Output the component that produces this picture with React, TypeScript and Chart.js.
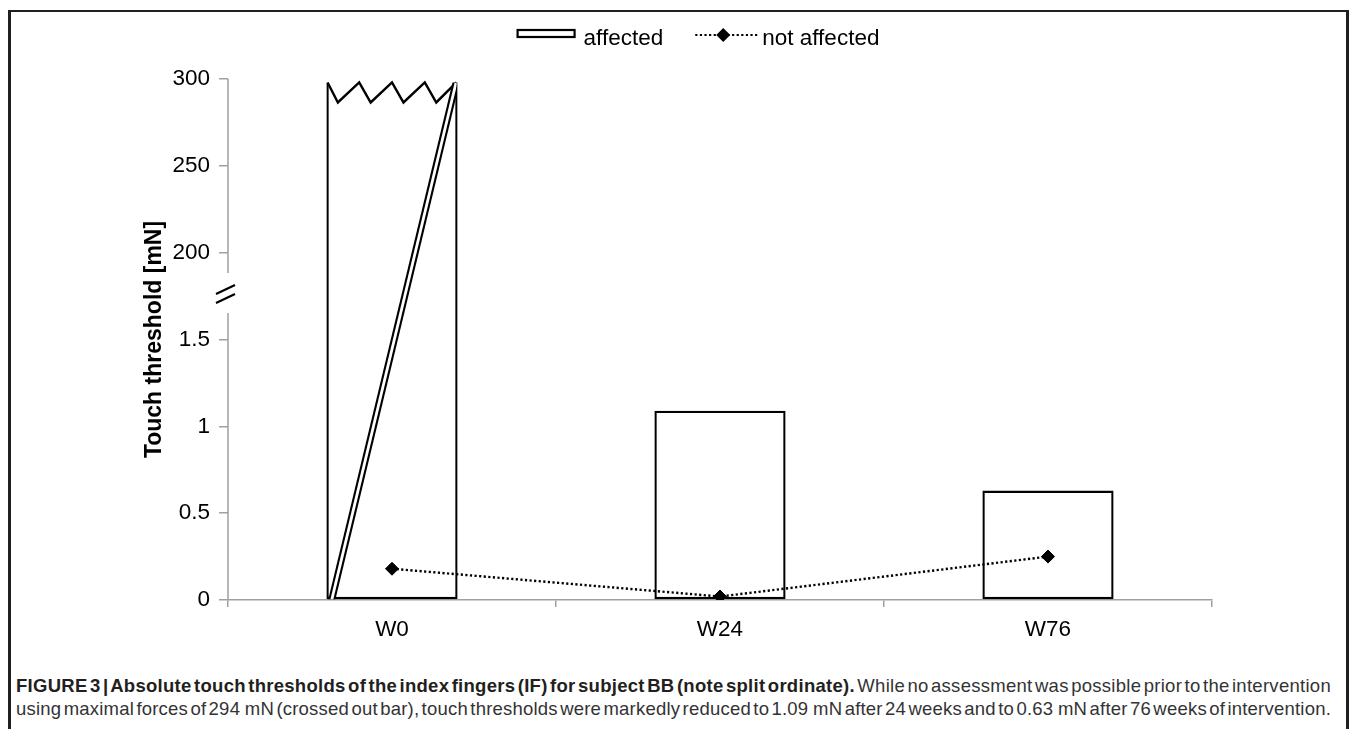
import React, { useEffect, useLayoutEffect, useRef } from 'react';
import { Chart, registerables } from 'chart.js';

Chart.register(...registerables);

// ---- data ----
const categories = ['W0', 'W24', 'W76'];
const affected = [298, 1.09, 0.63]; // W0 bar crossed out, reaches top of split axis
const notAffected = [0.18, 0.02, 0.25];
const lowerTicks = [0, 0.5, 1, 1.5];
const upperTicks = [200, 250, 300];
const tickLabels = [...lowerTicks, ...upperTicks].map(String);

const FONT = "'Liberation Sans', Arial, Helvetica, sans-serif";
const AXIS = '#a0a0a0';

const lowerStep = lowerTicks[1] - lowerTicks[0];
const upperStep = upperTicks[1] - upperTicks[0];
const lowerMax = lowerTicks[lowerTicks.length - 1] + lowerStep;
function toDisplay(v: number): number {
  if (v <= lowerMax) return (v - lowerTicks[0]) / lowerStep;
  return lowerTicks.length + (v - upperTicks[0]) / upperStep;
}

const splitPlugin = {
  id: 'splitPlugin',
  afterDatasetDraw(chart: any, args: any) {
    if (args.meta.type !== 'bar') return;
    const el = args.meta.data[0];
    if (!el) return;
    const { x, y, base, width } = el.getProps(['x', 'y', 'base', 'width'], true);
    const left = x - width / 2;
    const right = x + width / 2;
    const ctx = chart.ctx;
    ctx.save();
    // zigzag top
    const seg = width / 4;
    ctx.beginPath();
    ctx.moveTo(left + 1.2, y);
    for (let i = 0; i < 4; i++) {
      ctx.lineTo(left + i * seg + seg * 0.35, y + 20);
      ctx.lineTo(left + (i + 1) * seg - (i === 3 ? 1.2 : 0), y);
    }
    ctx.strokeStyle = '#000';
    ctx.lineWidth = 2.4;
    ctx.lineJoin = 'miter';
    ctx.stroke();
    // double diagonal
    ctx.beginPath();
    ctx.rect(left + 1, y, width - 2, base - y);
    ctx.clip();
    ctx.beginPath();
    ctx.moveTo(left + 5, base + 2);
    ctx.lineTo(right - 1.5, y);
    ctx.lineWidth = 7;
    ctx.strokeStyle = '#000';
    ctx.stroke();
    ctx.lineWidth = 2.8;
    ctx.strokeStyle = '#fff';
    ctx.stroke();
    ctx.restore();
  },
  afterDraw(chart: any) {
    const ctx = chart.ctx;
    const ys = chart.scales.y;
    const ax = ys.right;
    const yBreak = ys.getPixelForValue(lowerTicks.length - 0.5);
    ctx.save();
    // y axis line with break
    ctx.strokeStyle = AXIS;
    ctx.lineWidth = 1.5;
    ctx.beginPath();
    ctx.moveTo(ax, ys.bottom);
    ctx.lineTo(ax, yBreak + 17);
    ctx.moveTo(ax, yBreak - 23);
    ctx.lineTo(ax, ys.top);
    ctx.stroke();
    ctx.strokeStyle = '#000';
    ctx.lineWidth = 2.2;
    ctx.beginPath();
    ctx.moveTo(ax - 12, yBreak - 2);
    ctx.lineTo(ax + 7, yBreak - 11);
    ctx.moveTo(ax - 12, yBreak + 7);
    ctx.lineTo(ax + 7, yBreak - 2);
    ctx.stroke();

    // legend
    const ds = chart.data.datasets;
    const barDs = ds.find((d: any) => d.type === 'bar');
    const lineDs = ds.find((d: any) => d.type === 'line');
    ctx.font = `22.5px ${FONT}`;
    ctx.fillStyle = '#000';
    ctx.textBaseline = 'alphabetic';
    ctx.textAlign = 'left';
    const w1 = ctx.measureText(barDs.label).width;
    const w2 = ctx.measureText(lineDs.label).width;
    const rectW = 59, gap1 = 8, gapMid = 32, lineW = 62, gap2 = 5;
    const total = rectW + gap1 + w1 + gapMid + lineW + gap2 + w2;
    let lx = 698 - total / 2;
    const baseY = 45;
    ctx.strokeStyle = '#000';
    ctx.lineWidth = 2.2;
    ctx.strokeRect(lx + 1, 30, rectW - 2, 7);
    lx += rectW + gap1;
    ctx.fillText(barDs.label, lx, baseY);
    lx += w1 + gapMid;
    ctx.beginPath();
    ctx.setLineDash([2.2, 2.4]);
    ctx.moveTo(lx, 35);
    ctx.lineTo(lx + lineW, 35);
    ctx.stroke();
    ctx.setLineDash([]);
    const cx = lx + lineW / 2 - 3;
    ctx.beginPath();
    ctx.moveTo(cx - 7, 35);
    ctx.lineTo(cx, 28);
    ctx.lineTo(cx + 7, 35);
    ctx.lineTo(cx, 42);
    ctx.closePath();
    ctx.fillStyle = '#000';
    ctx.fill();
    lx += lineW + gap2;
    ctx.fillText(lineDs.label, lx, baseY);
    ctx.restore();
  },
};

const captionBold =
  'FIGURE 3 | Absolute touch thresholds of the index fingers (IF) for subject BB (note split ordinate).';
const captionRest1 = ' While no assessment was possible prior to the intervention';
const captionLine2 =
  'using maximal forces of 294  mN (crossed out bar), touch thresholds were markedly reduced to 1.09  mN after 24 weeks and to 0.63  mN after 76 weeks of intervention.';

export default function App() {
  const canvasRef = useRef<HTMLCanvasElement>(null);
  const l1 = useRef<HTMLSpanElement>(null);
  const l2 = useRef<HTMLSpanElement>(null);

  useEffect(() => {
    const chart = new Chart(canvasRef.current as HTMLCanvasElement, {
      type: 'bar',
      data: {
        labels: categories,
        datasets: [
          {
            type: 'line',
            label: 'not affected',
            data: notAffected.map(toDisplay),
            borderColor: '#000',
            borderWidth: 2.4,
            borderDash: [2.2, 2.4],
            pointStyle: 'rectRot',
            pointRadius: 6.5,
            pointBackgroundColor: '#000',
            pointBorderColor: '#000',
            pointBorderWidth: 1,
            fill: false,
            tension: 0,
            order: 1,
          } as any,
          {
            type: 'bar',
            label: 'affected',
            data: affected.map(toDisplay),
            backgroundColor: '#fff',
            borderColor: '#000',
            borderWidth: 2.4,
            borderSkipped: ((c: any) => (c.dataIndex === 0 ? 'top' : false)) as any,
            barPercentage: 0.4,
            categoryPercentage: 1,
            order: 2,
          } as any,
        ],
      },
      options: {
        responsive: false,
        animation: false,
        devicePixelRatio: 1,
        layout: { padding: { top: 79, right: 143, left: 0, bottom: 0 } },
        plugins: { legend: { display: false }, tooltip: { enabled: false } },
        scales: {
          x: {
            grid: { offset: true, drawOnChartArea: false, drawTicks: true, tickLength: 7, color: AXIS, lineWidth: 1.5 },
            border: { display: true, color: AXIS, width: 1.5 },
            ticks: { font: { family: FONT, size: 22.5 }, color: '#000', padding: 9 },
            afterFit: (s: any) => {
              s.height = 70;
            },
          },
          y: {
            min: 0,
            max: tickLabels.length - 1,
            afterBuildTicks: (s: any) => {
              s.ticks = tickLabels.map((_, i) => ({ value: i }));
            },
            ticks: {
              callback: (v: any) => tickLabels[Math.round(Number(v))],
              font: { family: FONT, size: 22.5 },
              color: '#000',
              padding: 9,
            },
            grid: { drawOnChartArea: false, drawTicks: true, tickLength: 9, color: AXIS, lineWidth: 1.5 },
            border: { display: false },
            title: {
              display: true,
              text: 'Touch threshold [mN]',
              font: { family: FONT, size: 23, weight: 'bold' },
              color: '#000',
              padding: { top: 141, bottom: 0 },
            },
            afterFit: (s: any) => {
              s.width = 228;
            },
          },
        },
      } as any,
      plugins: [splitPlugin as any],
    });
    return () => chart.destroy();
  }, []);

  useLayoutEffect(() => {
    const target = 1315;
    for (const el of [l1.current, l2.current]) {
      if (!el) continue;
      el.style.letterSpacing = '0px';
      const w = el.getBoundingClientRect().width;
      const n = (el.textContent || '').length;
      el.style.letterSpacing = `${(target - w) / n}px`;
    }
  }, []);

  const captionLine: React.CSSProperties = {
    position: 'absolute',
    left: 16,
    whiteSpace: 'pre',
    display: 'inline-block',
    fontFamily: FONT,
    fontSize: 18.5,
    lineHeight: '23px',
    color: '#333',
    wordSpacing: '-3px',
  };

  return (
    <div style={{ position: 'absolute', left: 0, top: 0, width: 1355, height: 729, background: '#fff', overflow: 'hidden' }}>
      <div
        style={{
          position: 'absolute',
          left: 8,
          top: 10,
          width: 1341,
          height: 760,
          borderTop: '2px solid #231f20',
          borderLeft: '3px solid #231f20',
          borderRight: '3px solid #231f20',
          boxSizing: 'border-box',
        }}
      />
      <canvas ref={canvasRef} width={1355} height={670} style={{ position: 'absolute', left: 0, top: 0, display: 'block' }} />
      <span ref={l1} style={{ ...captionLine, top: 674 }}>
        <b style={{ color: '#231f20' }}>{captionBold}</b>
        {captionRest1}
      </span>
      <span ref={l2} style={{ ...captionLine, top: 697 }}>
        {captionLine2}
      </span>
    </div>
  );
}
